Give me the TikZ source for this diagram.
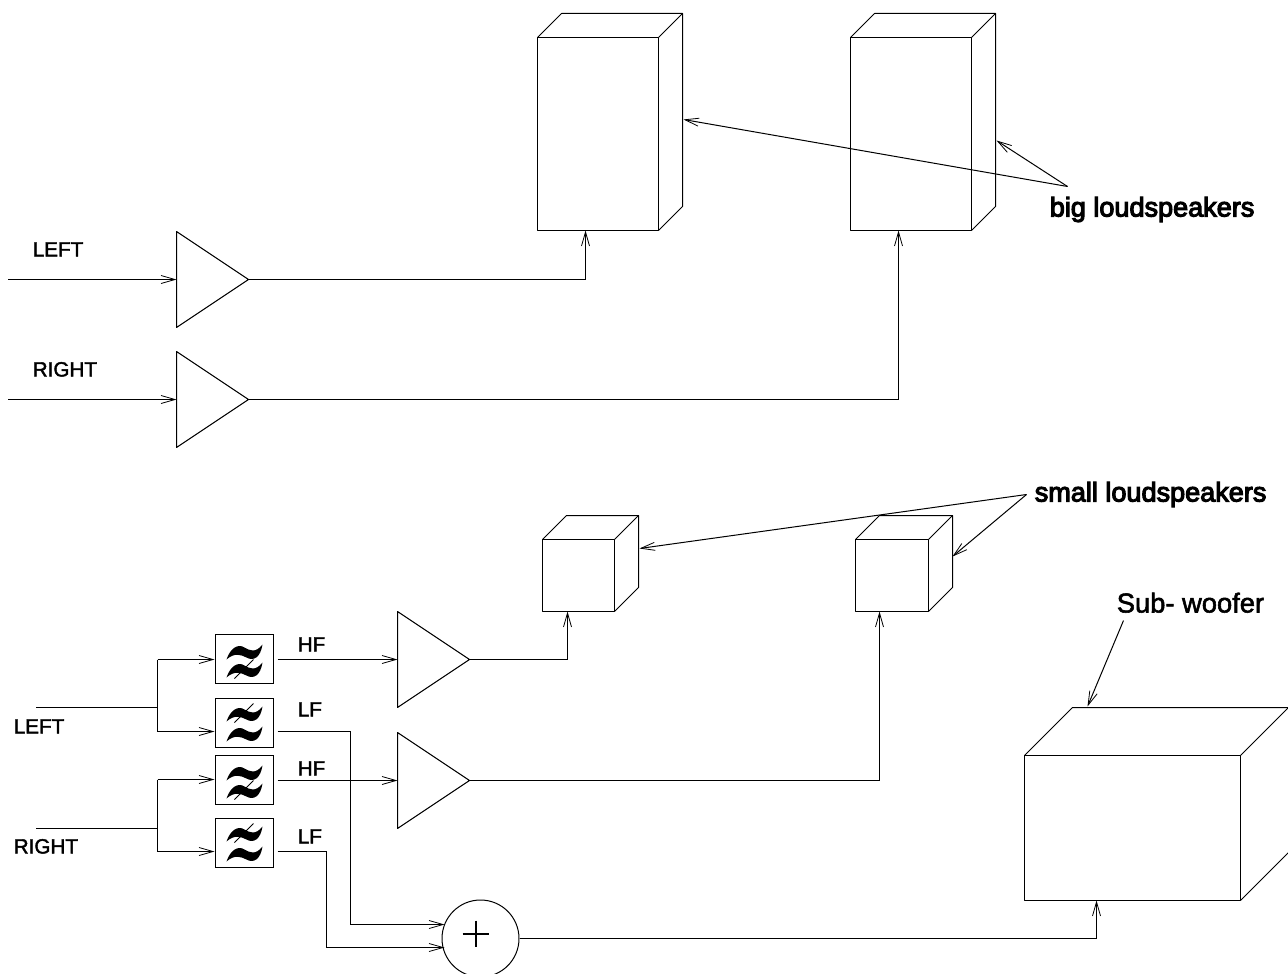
\documentclass[tikz,border=0pt]{standalone}
\usepackage{fontspec}
\setmainfont{Liberation Sans}
\newfontfamily\fakeA[FakeBold=2]{Liberation Sans}
\newfontfamily\fakeB[FakeBold=4]{Liberation Sans}
\usetikzlibrary{arrows.meta,calc}
\tikzset{
  x=0.75pt,y=-0.75pt,
  wire/.style={draw=black,line width=0.75pt,line join=miter},
  arr/.style={wire,-{Straight Barb[length=10.5pt,width=6pt,line width=0.6pt]}},
  shape3d/.style={draw=black,line width=0.75pt,line join=round},
  lab/.style={inner sep=0pt,anchor=base west,font=\fakeA\fontsize{15.5}{16}\selectfont,text=black},
  biglab/.style={inner sep=0pt,anchor=base west,font=\fakeB\fontsize{20.3}{22}\selectfont,text=black},
  sublab/.style={inner sep=0pt,anchor=base west,font=\fakeA\fontsize{20.5}{22}\selectfont,text=black},
  filterbox/.style={draw=black,line width=0.85pt,minimum width=43.5pt,minimum height=36.75pt,inner sep=0pt,anchor=north west},
  slash/.style={line width=0.7pt},
}
\newcommand{\tildeat}[2]{%
  \fill[black] (#1-18,#2+7) .. controls (#1-14,#2-5) and (#1-6,#2-9) .. (#1,#2-5) .. controls (#1+5,#2-2) and (#1+11,#2+1) .. (#1+18,#2-8) .. controls (#1+16,#2+5) and (#1+9,#2+9) .. (#1+2,#2+5) .. controls (#1-4,#2+2) and (#1-10,#2) .. (#1-18,#2+7) -- cycle;}
\newcommand{\amp}[2]{%
  \draw[shape3d] (#1,#2-48) -- (#1+72,#2) -- (#1,#2+48) -- cycle;}
\newcommand{\boxthree}[5]{% x y w h depth
  \draw[shape3d] (#1,#2) rectangle (#1+#3,#2+#4);
  \draw[shape3d] (#1,#2) -- (#1+#5,#2-#5) -- (#1+#3+#5,#2-#5) -- (#1+#3+#5,#2+#4-#5) -- (#1+#3,#2+#4);
  \draw[shape3d] (#1+#3,#2) -- (#1+#3+#5,#2-#5);}
\begin{document}
\begin{tikzpicture}
\useasboundingbox (0.5,0.5) rectangle (1288.5,974.5);
% big loudspeakers
\boxthree{538}{38}{121}{193}{24}
\boxthree{851}{38}{121}{193}{24}
% small loudspeakers
\boxthree{543}{540}{72}{72}{24}
\boxthree{856}{540}{73}{72}{24}
% subwoofer
\boxthree{1025}{756}{216}{145}{48}
% amps
\amp{177}{280}\amp{177}{400}\amp{398}{660}\amp{398}{781}
% coordinates
\coordinate (inL) at (9,280);\coordinate (ampLin) at (177,280);\coordinate (ampLout) at (249,280);
\coordinate (spkL) at (586,231);
\coordinate (inR) at (9,400);\coordinate (ampRin) at (177,400);\coordinate (ampRout) at (249,400);
\coordinate (spkR) at (899,231);
\draw[arr] (inL) -- (ampLin);
\draw[arr] (ampLout) -| (spkL);
\draw[arr] (inR) -- (ampRin);
\draw[arr] (ampRout) -| (spkR);
% filters
\node[filterbox] (f1) at (215,634) {};
\node[filterbox] (f2) at (215,698) {};
\node[filterbox] (f3) at (215,755) {};
\node[filterbox] (f4) at (215,818) {};
\foreach \y in {634,755}{
  \tildeat{245}{\y+19}\tildeat{245}{\y+37}
  \draw[slash] (235,\y+45) -- (254,\y+26);
}
\foreach \y in {698,818}{
  \tildeat{245}{\y+17}\tildeat{245}{\y+37}
  \draw[slash] (235,\y+25) -- (254,\y+6);
}
% lower wiring
\coordinate (lLin) at (37,708);\coordinate (lLj) at (158,708);
\coordinate (rRin) at (37,829);\coordinate (rRj) at (158,829);
\coordinate (f1in) at (215,660);\coordinate (f2in) at (215,732);
\coordinate (f3in) at (215,780);\coordinate (f4in) at (215,852);
\coordinate (f1o) at (278,660);\coordinate (f2o) at (278,732);
\coordinate (f3o) at (278,781);\coordinate (f4o) at (278,852);
\draw[wire] (lLin) -- (lLj);
\draw[arr] (158,660) -- (f1in);
\draw[arr] (158,732) -- (f2in);
\draw[wire] (158,660) -- (158,732);
\draw[wire] (rRin) -- (rRj);
\draw[arr] (158,780) -- (f3in);
\draw[arr] (158,852) -- (f4in);
\draw[wire] (158,780) -- (158,852);
\coordinate (a3in) at (398,660);\coordinate (a3out) at (470,660);
\coordinate (a4in) at (398,781);\coordinate (a4out) at (470,781);
\draw[arr] (f1o) -- (a3in);
\draw[arr] (f3o) -- (a4in);
\coordinate (s1) at (568,612);\coordinate (s2) at (880,612);
\draw[arr] (a3out) -| (s1);
\draw[arr] (a4out) -| (s2);
\node[draw=black,line width=0.75pt,circle,minimum size=57.75pt,inner sep=0pt] (sum) at (481,939) {};
\draw[line width=1.5pt] (463,934) -- (489,934) (476,921) -- (476,947);
\coordinate (sumA) at (445,925);\coordinate (sumB) at (445,948);
\draw[arr] (f2o) -- (351,732) -- (351,925) -- (sumA);
\draw[arr] (f4o) -- (327,852) -- (327,948) -- (sumB);
\coordinate (sub) at (1097,901);
\draw[arr] (sum.east) -| (sub);
% labels
\node[lab] (t1) at (33,257) {LEFT};
\node[lab] (t2) at (33,377) {RIGHT};
\node[lab] (t3) at (14,734) {LEFT};
\node[lab] (t4) at (14,854) {RIGHT};
\node[lab] (t5) at (298,652) {HF};
\node[lab] (t6) at (298,717) {LF};
\node[lab] (t7) at (298,776) {HF};
\node[lab] (t8) at (298,844) {LF};
\node[biglab] (bl) at (1050,217) {big loudspeakers};
\node[biglab] (sl) at (1035,502) {small loudspeakers};
\node[sublab] (sw) at (1117,613) {Sub- woofer};
\coordinate (blh) at (1068,187);
\draw[arr] (blh) -- (684,120);
\draw[arr] (blh) -- (997,141);
\coordinate (slh) at (1027,495);
\draw[arr] (slh) -- (640,549);
\draw[arr] (slh) -- (953,557);
\draw[arr] (1124,621) -- (1088,707);
\end{tikzpicture}
\end{document}
